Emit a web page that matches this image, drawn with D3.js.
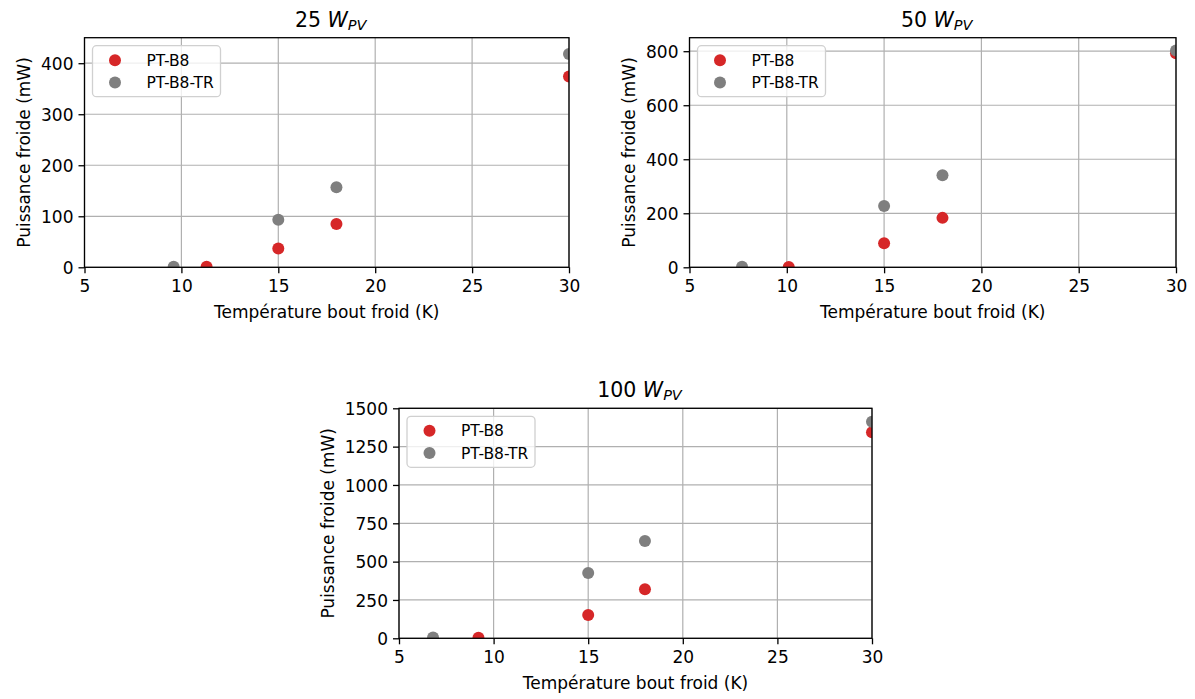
<!DOCTYPE html>
<html>
<head>
<meta charset="utf-8">
<script src="https://cdn.jsdelivr.net/npm/d3@7"></script>
<style>
  html, body { margin: 0; padding: 0; background: #fff; }
  svg { display: block; font-family: "DejaVu Sans", sans-serif; }
</style>
</head>
<body>
<svg id="chart" width="1195" height="699"></svg>
<script>
// ---- data ----
const seriesNames = ["PT-B8", "PT-B8-TR"];
const seriesColors = ["#d62728", "#7f7f7f"];
const xTicks = [5, 10, 15, 20, 25, 30];
const xLabel = "Température bout froid (K)";
const yLabel = "Puissance froide (mW)";

const title25 = "25";
const T25_B8 = [11.3, 15, 18, 30];
const P25_B8 = [1, 37, 85, 374];
const T25_TR = [9.6, 15, 18, 30];
const P25_TR = [1, 93, 157, 418];
const yTicks25 = [0, 100, 200, 300, 400];
const yMax25 = 450;

const title50 = "50";
const T50_B8 = [10.1, 15, 18, 30];
const P50_B8 = [1, 89, 183, 792];
const T50_TR = [7.7, 15, 18, 30];
const P50_TR = [2, 227, 341, 803];
const yTicks50 = [0, 200, 400, 600, 800];
const yMax50 = 850;

const title100 = "100";
const T100_B8 = [9.2, 15, 18, 30];
const P100_B8 = [3, 152, 320, 1344];
const T100_TR = [6.8, 15, 18, 30];
const P100_TR = [5, 426, 635, 1413];
const yTicks100 = [0, 250, 500, 750, 1000, 1250, 1500];
const yMax100 = 1500;

// ---- layout ----
const panels = [
  { title: title25, box: {l: 84.5, r: 569, t: 37.7, b: 267.3}, yTicks: yTicks25, yMax: yMax25,
    series: [{x: T25_B8, y: P25_B8}, {x: T25_TR, y: P25_TR}] },
  { title: title50, box: {l: 689.5, r: 1176, t: 37.7, b: 267.3}, yTicks: yTicks50, yMax: yMax50,
    series: [{x: T50_B8, y: P50_B8}, {x: T50_TR, y: P50_TR}] },
  { title: title100, box: {l: 399, r: 872, t: 408.3, b: 638.3}, yTicks: yTicks100, yMax: yMax100,
    series: [{x: T100_B8, y: P100_B8}, {x: T100_TR, y: P100_TR}] }
];

const svg = d3.select("#chart");
const FS = 17;

panels.forEach((p, i) => {
  const {l, r, t, b} = p.box;
  const x = d3.scaleLinear().domain([5, 30]).range([l, r]);
  const y = d3.scaleLinear().domain([0, p.yMax]).range([b, t]);
  const g = svg.append("g");

  // grid
  g.append("g").selectAll("line").data(xTicks).join("line")
    .attr("x1", d => x(d)).attr("x2", d => x(d)).attr("y1", t).attr("y2", b)
    .attr("stroke", "#b0b0b0").attr("stroke-width", 1.2);
  g.append("g").selectAll("line").data(p.yTicks).join("line")
    .attr("y1", d => y(d)).attr("y2", d => y(d)).attr("x1", l).attr("x2", r)
    .attr("stroke", "#b0b0b0").attr("stroke-width", 1.2);

  // points, clipped to axes
  const clipId = "clip" + i;
  svg.append("clipPath").attr("id", clipId).append("rect")
    .attr("x", l).attr("y", t).attr("width", r - l).attr("height", b - t);
  const pts = g.append("g").attr("clip-path", `url(#${clipId})`);
  p.series.forEach((s, si) => {
    pts.append("g").selectAll("circle").data(s.x.map((xv, k) => [xv, s.y[k]])).join("circle")
      .attr("cx", d => x(d[0])).attr("cy", d => y(d[1])).attr("r", 6)
      .attr("fill", seriesColors[si]);
  });

  // axes
  const xa = g.append("g").attr("transform", `translate(0,${b})`)
    .call(d3.axisBottom(x).tickValues(xTicks).tickSize(6).tickPadding(5).tickFormat(d3.format("d")));
  const ya = g.append("g").attr("transform", `translate(${l},0)`)
    .call(d3.axisLeft(y).tickValues(p.yTicks).tickSize(6).tickPadding(5).tickFormat(d3.format("d")));
  [xa, ya].forEach(a => {
    a.select(".domain").remove();
    a.selectAll("line").attr("stroke", "#000").attr("stroke-width", 1.3);
    a.selectAll("text").attr("font-size", FS).attr("font-family", "DejaVu Sans").attr("fill", "#000");
  });
  xa.selectAll("text").attr("dy", null).attr("y", 12 + 12.4);
  ya.selectAll("text").attr("dy", "0.36em");

  // frame
  g.append("rect").attr("x", l).attr("y", t).attr("width", r - l).attr("height", b - t)
    .attr("fill", "none").attr("stroke", "#000").attr("stroke-width", 1.3);

  // y tick label max width
  let maxW = 0;
  ya.selectAll("text").each(function() { maxW = Math.max(maxW, this.getBBox().width); });

  // axis labels
  g.append("text").attr("x", (l + r) / 2).attr("y", b + 51)
    .attr("text-anchor", "middle").attr("font-size", FS).text(xLabel);
  const yx = l - 11 - maxW - 7 - 4;
  g.append("text").attr("transform", `translate(${yx},${(t + b) / 2}) rotate(-90)`)
    .attr("text-anchor", "middle").attr("font-size", FS).text(yLabel);

  // title
  const tt = g.append("text").attr("x", (l + r) / 2 + 4).attr("y", t - 11)
    .attr("text-anchor", "middle").attr("font-size", 20.5);
  tt.append("tspan").text(p.title + " ");
  tt.append("tspan").attr("font-style", "italic").text("W");
  tt.append("tspan").attr("font-style", "italic").attr("font-size", 14.5).attr("dy", 3).text("PV");

  // legend
  const lg = g.append("g").attr("transform", `translate(${l + 8},${t + 8})`);
  lg.append("rect").attr("width", 128).attr("height", 51).attr("rx", 4)
    .attr("fill", "#fff").attr("fill-opacity", 0.8)
    .attr("stroke", "#d0d0d0").attr("stroke-width", 1.3);
  seriesNames.forEach((n, si) => {
    const cy = 14.5 + si * 22.3;
    lg.append("circle").attr("cx", 22.5).attr("cy", cy).attr("r", 6).attr("fill", seriesColors[si]);
    lg.append("text").attr("x", 54).attr("y", cy + 5.5).attr("font-size", 15.5).text(n);
  });
});
</script>
</body>
</html>
